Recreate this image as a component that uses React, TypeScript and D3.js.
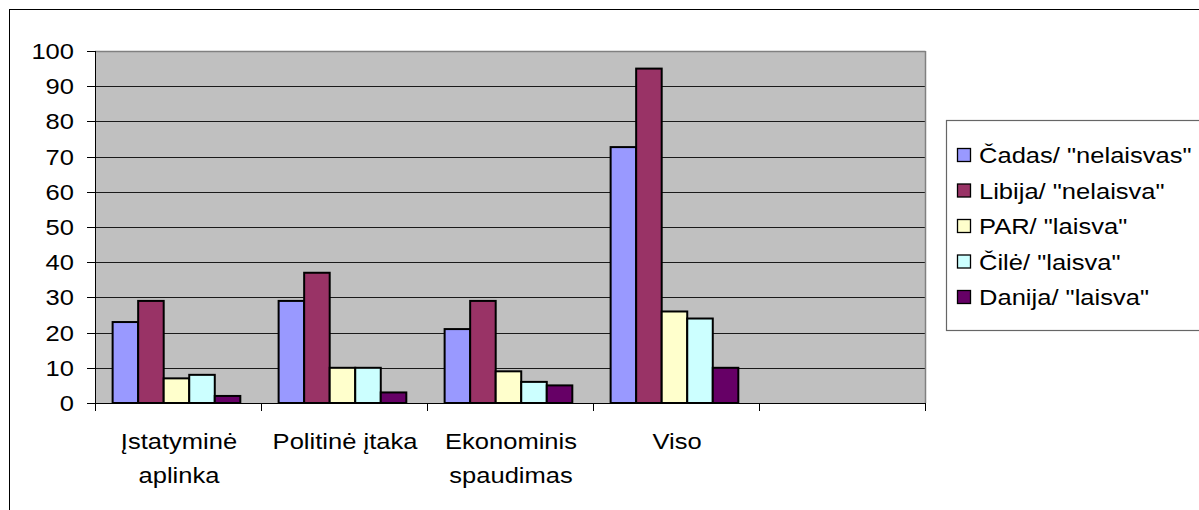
import React from "react";
import * as d3 from "d3";

const categories: string[][] = [
  ["Įstatyminė", "aplinka"],
  ["Politinė įtaka"],
  ["Ekonominis", "spaudimas"],
  ["Viso"],
  [],
];
const seriesNames = [
  'Čadas/ "nelaisvas"',
  'Libija/ "nelaisva"',
  'PAR/ "laisva"',
  'Čilė/ "laisva"',
  'Danija/ "laisva"',
];
const cadas = [23, 29, 21, 72.7];
const libija = [29, 37, 29, 95];
const par = [7, 10, 9, 26];
const cile = [8, 10, 6, 24];
const danija = [2, 3, 5, 10];
const seriesValues = [cadas, libija, par, cile, danija];
const seriesColors = ["#9999FF", "#993366", "#FFFFCC", "#CCFFFF", "#660066"];
const yTicks = [0, 10, 20, 30, 40, 50, 60, 70, 80, 90, 100];

const W = 1199;
const H = 510;
const plot = { left: 95, right: 925, top: 51, bottom: 403 };
const FONT = "'Liberation Sans', Arial, sans-serif";
const FS = 22.6;
const SX = 1.13;

export default function App() {
  const x = d3
    .scaleBand<number>()
    .domain(categories.map((_, i) => i))
    .range([plot.left, plot.right])
    .padding(0);
  const inner = d3
    .scaleBand<number>()
    .domain(seriesNames.map((_, i) => i))
    .range([0, x.bandwidth()])
    .paddingInner(0)
    .paddingOuter(0.75)
    .align(0.46);
  const y = d3.scaleLinear().domain([0, 100]).range([plot.bottom, plot.top]);

  const boundaries = categories.map((_, i) => x(i)!).concat([plot.right]);

  return (
    <svg
      width={W}
      height={H}
      style={{ position: "absolute", left: 0, top: 0, background: "#fff" }}
      fontFamily={FONT}
      fontSize={FS}
    >
      <rect x={9.5} y={9.5} width={1400} height={700} fill="#fff" stroke="#000" strokeWidth={1} />
      <rect
        x={plot.left}
        y={plot.top}
        width={plot.right - plot.left}
        height={plot.bottom - plot.top}
        fill="#C0C0C0"
      />
      {yTicks
        .filter((t) => t > 0 && t < 100)
        .map((t) => (
          <line
            key={"g" + t}
            x1={plot.left}
            x2={plot.right}
            y1={Math.round(y(t)) + 0.5}
            y2={Math.round(y(t)) + 0.5}
            stroke="#1a1a1a"
            strokeWidth={1}
          />
        ))}
      <line x1={plot.left} x2={plot.right + 0.5} y1={plot.top + 0.5} y2={plot.top + 0.5} stroke="#808080" strokeWidth={1.5} />
      <line x1={plot.right + 0.5} x2={plot.right + 0.5} y1={plot.top} y2={plot.bottom} stroke="#808080" strokeWidth={1.5} />
      {seriesValues.map((vals, s) =>
        vals.map((v, c) => (
          <rect
            key={`b${s}-${c}`}
            x={x(c)! + inner(s)!}
            y={y(v)}
            width={inner.bandwidth()}
            height={y(0) - y(v)}
            fill={seriesColors[s]}
            stroke="#000"
            strokeWidth={2}
          />
        ))
      )}
      <line x1={plot.left + 0.5} x2={plot.left + 0.5} y1={plot.top} y2={plot.bottom} stroke="#000" strokeWidth={1} />
      <line x1={plot.left} x2={plot.right + 1} y1={plot.bottom + 0.5} y2={plot.bottom + 0.5} stroke="#000" strokeWidth={1} />
      {yTicks.map((t) => (
        <g key={"yt" + t}>
          <line
            x1={plot.left - 8}
            x2={plot.left}
            y1={Math.round(y(t)) + 0.5}
            y2={Math.round(y(t)) + 0.5}
            stroke="#000"
          />
          <text
            transform={`translate(${plot.left - 21},${y(t) + 8}) scale(${SX},1)`}
            textAnchor="end"
            fill="#000"
          >
            {t}
          </text>
        </g>
      ))}
      {boundaries.map((bx, i) => (
        <line
          key={"xt" + i}
          x1={Math.round(bx) + 0.5}
          x2={Math.round(bx) + 0.5}
          y1={plot.bottom}
          y2={plot.bottom + 8}
          stroke="#000"
        />
      ))}
      {categories.map((lines, i) =>
        lines.map((ln, j) => (
          <text
            key={`cl${i}-${j}`}
            transform={`translate(${x(i)! + x.bandwidth() / 2 + 1},${449 + j * 34}) scale(${SX},1)`}
            textAnchor="middle"
            fill="#000"
          >
            {ln}
          </text>
        ))
      )}
      <rect x={946.5} y={120.5} width={300} height={210} fill="#fff" stroke="#666" strokeWidth={1.2} />
      {seriesNames.map((name, i) => {
        const cy = 155 + i * 35.5;
        return (
          <g key={"lg" + i}>
            <rect x={957.5} y={cy - 6.5} width={13} height={13} fill={seriesColors[i]} stroke="#000" strokeWidth={1.3} />
            <text transform={`translate(979,${cy + 8}) scale(${SX},1)`} fill="#000">
              {name}
            </text>
          </g>
        );
      })}
    </svg>
  );
}
